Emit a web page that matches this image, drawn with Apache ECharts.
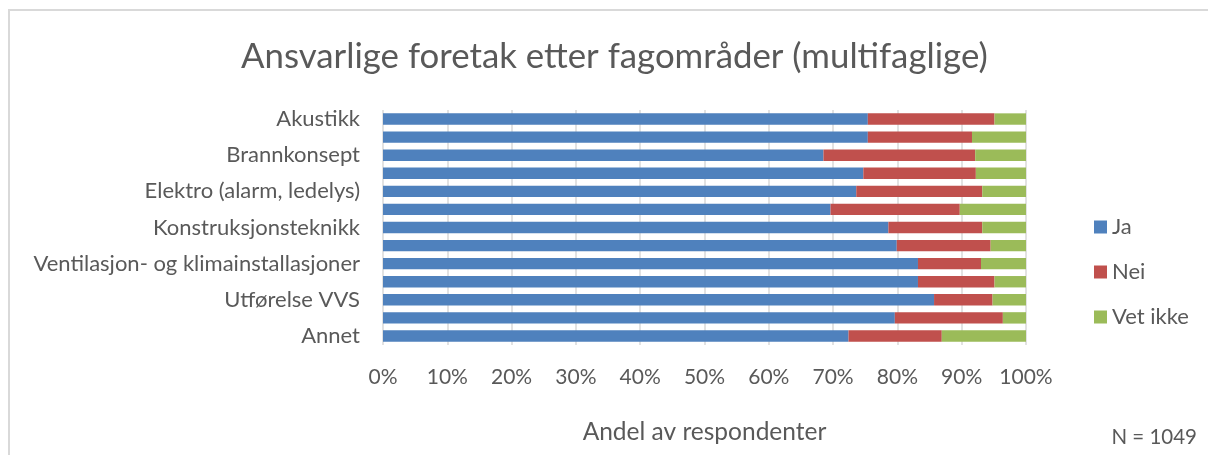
<!DOCTYPE html>
<html>
<head>
<meta charset="utf-8">
<script src="https://cdn.jsdelivr.net/npm/echarts@6/dist/echarts.min.js"></script>
<style>
  html, body { margin: 0; padding: 0; background: #ffffff; }
  #chart { width: 1208px; height: 455px; }
</style>
</head>
<body>
<div id="chart"></div>
<script>
// Fagområder (top to bottom); only every other name is shown on the axis
const categories = [
  'Akustikk',
  'Bygningsfysikk',
  'Brannkonsept',
  'Geoteknikk',
  'Elektro (alarm, ledelys)',
  'Miljøsanering',
  'Konstruksjonsteknikk',
  'Sanitærinstallasjoner',
  'Ventilasjon- og klimainstallasjoner',
  'Utførelse bygg',
  'Utførelse VVS',
  'Utførelse elektro',
  'Annet'
];

// Andel av respondenter (%)
const ja      = [75.4, 75.4, 68.5, 74.7, 73.6, 69.6, 78.6, 79.9, 83.2, 83.2, 85.7, 79.6, 72.4];
const nei     = [19.7, 16.2, 23.6, 17.5, 19.6, 20.1, 14.6, 14.6,  9.8, 11.9,  9.1, 16.8, 14.5];
const vetIkke = [ 4.9,  8.4,  7.9,  7.8,  6.8, 10.3,  6.8,  5.5,  7.0,  4.9,  5.2,  3.6, 13.1];

const seriesNames = ['Ja', 'Nei', 'Vet ikke'];
const seriesColors = ['#4f81bd', '#c0504d', '#9bbb59'];
const seriesData = [ja, nei, vetIkke];

const FONT = 'Lato, "Open Sans", sans-serif';
const TXT = '#595959';

const chart = echarts.init(document.getElementById('chart'), null, { renderer: 'canvas' });

chart.setOption({
  backgroundColor: '#ffffff',
  animation: false,
  title: {
    text: 'Ansvarlige foretak etter fagområder (multifaglige)',
    left: 236,
    top: 34,
    textStyle: { fontFamily: FONT, fontSize: 34.8, fontWeight: 'normal', color: TXT }
  },
  legend: {
    orient: 'vertical',
    left: 1094,
    top: 216,
    padding: 0,
    itemWidth: 13,
    itemHeight: 13,
    itemGap: 23,
    icon: 'rect',
    textStyle: { fontFamily: FONT, fontSize: 22, lineHeight: 22, color: TXT, padding: [0, 0, 0, 0] },
    data: seriesNames
  },
  grid: { left: 383, right: 182, top: 110, bottom: 110, containLabel: false },
  xAxis: {
    type: 'value',
    min: 0,
    max: 100,
    interval: 10,
    name: 'Andel av respondenter',
    nameLocation: 'middle',
    nameGap: 75,
    nameTextStyle: { fontFamily: FONT, fontSize: 24.5, color: TXT },
    axisLine: { show: false },
    axisTick: { show: false },
    axisLabel: {
      formatter: '{value}%',
      margin: 22,
      fontFamily: FONT,
      fontSize: 21,
      color: TXT
    },
    splitLine: { show: true, lineStyle: { color: '#d9d9d9', width: 1.5 } }
  },
  yAxis: {
    type: 'category',
    inverse: true,
    data: categories,
    axisLine: { show: false },
    axisTick: { show: false },
    axisLabel: {
      interval: 1,
      margin: 23,
      fontFamily: FONT,
      fontSize: 22,
      color: TXT
    }
  },
  series: seriesNames.map((name, i) => ({
    name: name,
    type: 'bar',
    stack: 'total',
    barWidth: '63%',
    data: seriesData[i],
    itemStyle: { color: seriesColors[i] }
  })),
  graphic: [
    {
      type: 'rect',
      shape: { x: 9, y: 10, width: 1400, height: 600 },
      style: { fill: 'none', stroke: '#d9d9d9', lineWidth: 2 },
      silent: true,
      z: -10
    },
    {
      type: 'text',
      right: 11,
      top: 427,
      style: { text: 'N = 1049', fontFamily: FONT, fontSize: 20.5, fill: TXT }
    }
  ]
});
</script>
</body>
</html>
